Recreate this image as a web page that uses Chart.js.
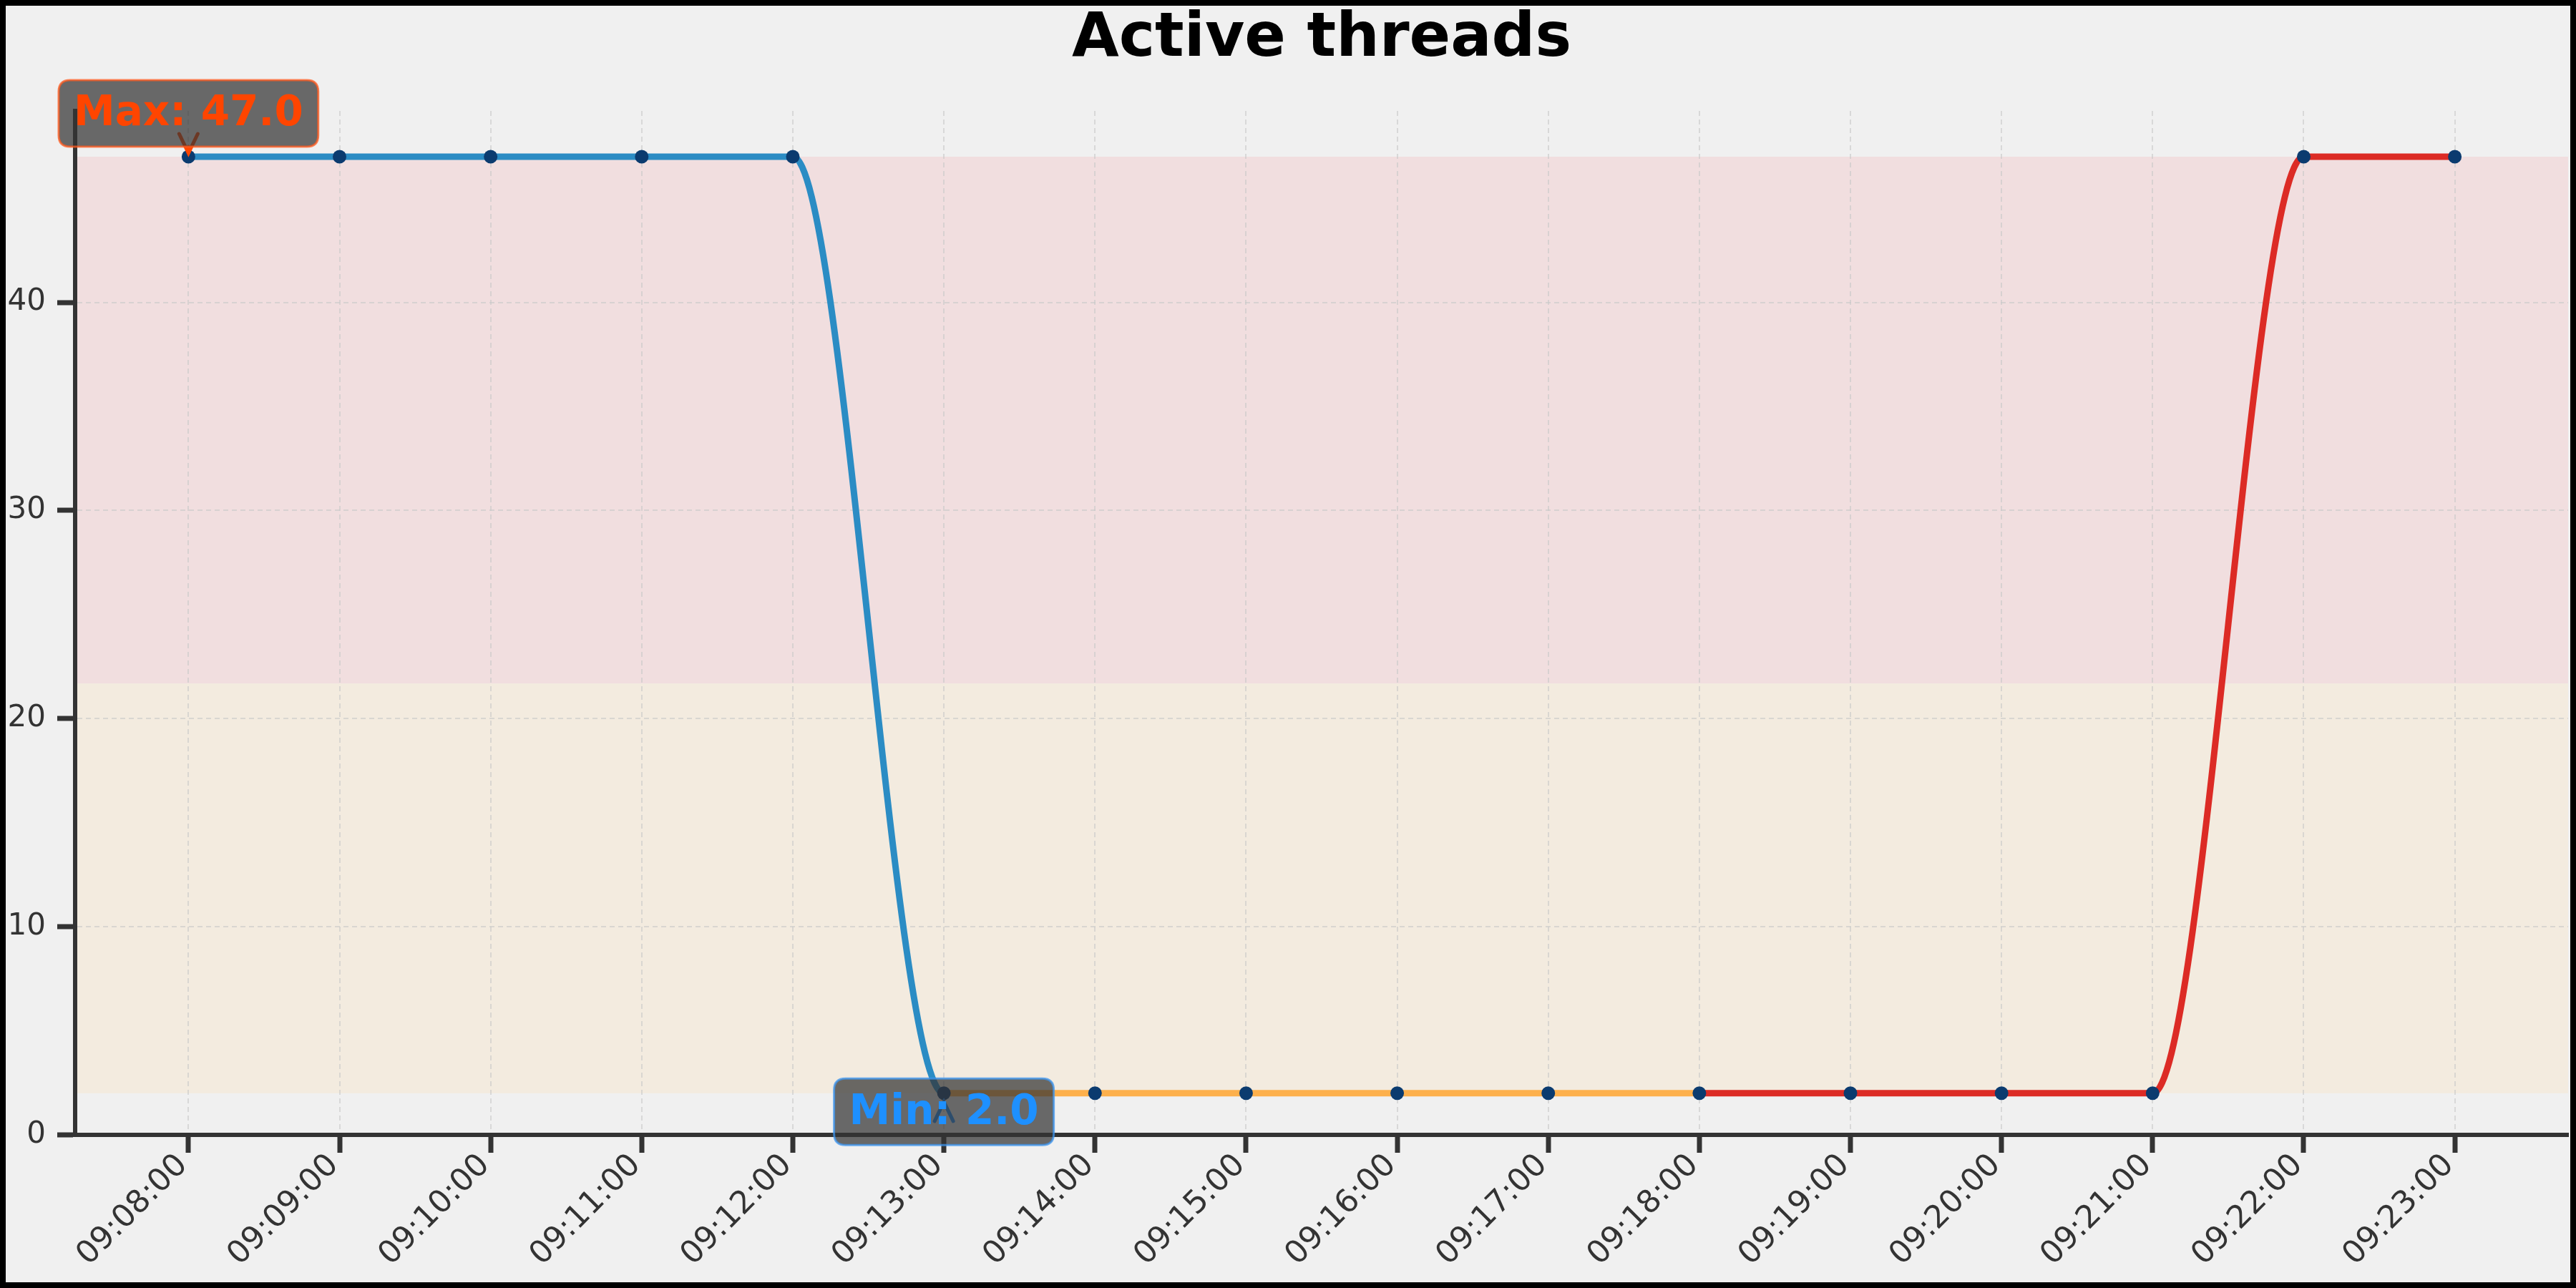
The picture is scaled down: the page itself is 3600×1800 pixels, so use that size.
<!DOCTYPE html>
<html>
<head>
<meta charset="utf-8">
<title>Active threads</title>
<script src="https://cdn.jsdelivr.net/npm/chart.js@4.4.1/dist/chart.umd.min.js"></script>
<style>
    html, body { margin: 0; padding: 0; background: #f0f0f0; }
    canvas { display: block; }
</style>
</head>
<body>
<canvas id="threadsChart" width="3600" height="1800"></canvas>
<script>
// Samples, one per minute
const timeLabels = ['09:08:00', '09:09:00', '09:10:00', '09:11:00', '09:12:00', '09:13:00', '09:14:00', '09:15:00',
    '09:16:00', '09:17:00', '09:18:00', '09:19:00', '09:20:00', '09:21:00', '09:22:00', '09:23:00'];
const activeThreads = [47, 47, 47, 47, 47, 2, 2, 2, 2, 2, 2, 2, 2, 2, 47, 47];
const yTickValues = [0, 10, 20, 30, 40];

// x position = minutes since first sample
const toMinutes = t => {
    const [h, m, s] = t.split(':').map(Number);
    return h * 60 + m + s / 60;
};
const xMinutes = timeLabels.map(t => toMinutes(t) - toMinutes(timeLabels[0]));

const maxValue = Math.max(...activeThreads);
const minValue = Math.min(...activeThreads);
const meanValue = activeThreads.reduce((a, b) => a + b, 0) / activeThreads.length;
const maxIndex = activeThreads.indexOf(maxValue);
const minIndex = activeThreads.indexOf(minValue);

const FONT = '"DejaVu Sans", "Liberation Sans", sans-serif';

// background, bands above/below the mean, title and frame
const decorPlugin = {
    id: 'decor',
    beforeDraw(chart) {
        const { ctx, chartArea, scales } = chart;
        ctx.save();
        ctx.fillStyle = '#f0f0f0';
        ctx.fillRect(0, 0, chart.width, chart.height);

        const yMax = scales.y.getPixelForValue(maxValue);
        const yMean = scales.y.getPixelForValue(meanValue);
        const yMin = scales.y.getPixelForValue(minValue);
        ctx.fillStyle = '#f1dedf'; // above mean
        ctx.fillRect(chartArea.left, yMax, chartArea.right - chartArea.left, yMean - yMax);
        ctx.fillStyle = '#f3ebdf'; // below mean
        ctx.fillRect(chartArea.left, yMean, chartArea.right - chartArea.left, yMin - yMean);

        ctx.fillStyle = '#000';
        ctx.font = 'bold 85px ' + FONT;
        ctx.textAlign = 'center';
        ctx.textBaseline = 'alphabetic';
        ctx.fillText('Active threads', (chartArea.left + chartArea.right) / 2, 78);
        ctx.restore();
    },
    afterDraw(chart) {
        const ctx = chart.ctx;
        ctx.save();
        ctx.strokeStyle = '#000';
        ctx.lineWidth = 8;
        ctx.strokeRect(4, 4, chart.width - 8, chart.height - 8);
        ctx.restore();
    }
};

function roundRect(ctx, x, y, w, h, r) {
    ctx.beginPath();
    ctx.moveTo(x + r, y);
    ctx.lineTo(x + w - r, y);
    ctx.quadraticCurveTo(x + w, y, x + w, y + r);
    ctx.lineTo(x + w, y + h - r);
    ctx.quadraticCurveTo(x + w, y + h, x + w - r, y + h);
    ctx.lineTo(x + r, y + h);
    ctx.quadraticCurveTo(x, y + h, x, y + h - r);
    ctx.lineTo(x, y + r);
    ctx.quadraticCurveTo(x, y, x + r, y);
    ctx.closePath();
}

// Max / Min callouts with arrow heads
function drawCallout(ctx, px, py, text, color, edge, boxDy, tipDy) {
    const cx = px;
    const cy = py + boxDy;
    ctx.save();
    ctx.font = 'bold 58px ' + FONT;
    const tw = ctx.measureText(text).width;
    const bw = tw + 42;
    const bh = 93;

    // arrow head (under the box)
    const tipY = py + tipDy;
    const dir = boxDy < 0 ? -1 : 1;
    ctx.strokeStyle = color;
    ctx.lineWidth = 5;
    ctx.lineCap = 'round';
    ctx.beginPath();
    if (dir < 0) {
        ctx.moveTo(px, cy + bh / 2);
        ctx.lineTo(px, tipY);
    }
    ctx.moveTo(px - 13, tipY + dir * 27);
    ctx.lineTo(px, tipY);
    ctx.lineTo(px + 13, tipY + dir * 27);
    ctx.stroke();

    roundRect(ctx, cx - bw / 2, cy - bh / 2, bw, bh, 16);
    ctx.fillStyle = 'rgba(51, 51, 51, 0.72)';
    ctx.fill();
    ctx.strokeStyle = edge;
    ctx.lineWidth = 3;
    ctx.stroke();

    ctx.fillStyle = color;
    ctx.textAlign = 'center';
    ctx.textBaseline = 'alphabetic';
    ctx.fillText(text, cx, cy + 17);
    ctx.restore();
}

const calloutPlugin = {
    id: 'callouts',
    afterDatasetsDraw(chart) {
        const { ctx, scales } = chart;
        const mx = scales.x.getPixelForValue(xMinutes[maxIndex]);
        const my = scales.y.getPixelForValue(maxValue);
        drawCallout(ctx, mx, my, 'Max: ' + maxValue.toFixed(1), '#ff4500', 'rgba(255, 90, 30, 0.75)', -60.5, -5);
        const nx = scales.x.getPixelForValue(xMinutes[minIndex]);
        const ny = scales.y.getPixelForValue(minValue);
        drawCallout(ctx, nx, ny, 'Min: ' + minValue.toFixed(1), '#1e90ff', 'rgba(60, 150, 240, 0.75)', 26, 12);
    }
};

const lineBlue = '#2b8cc4';
const lineOrange = '#fdb04c';
const lineRed = '#dc2b25';

new Chart(document.getElementById('threadsChart'), {
    type: 'line',
    data: {
        datasets: [{
            label: 'Active threads',
            data: activeThreads.map((v, i) => ({ x: xMinutes[i], y: v })),
            borderWidth: 9,
            cubicInterpolationMode: 'monotone',
            borderColor: lineBlue,
            segment: {
                borderColor: c => c.p0DataIndex < 5 ? lineBlue : (c.p0DataIndex < 10 ? lineOrange : lineRed)
            },
            pointRadius: 9.5,
            pointBackgroundColor: '#0b3b6f',
            pointBorderWidth: 0,
            fill: false,
            clip: false
        }]
    },
    options: {
        responsive: false,
        animation: false,
        layout: { padding: { top: 155, right: 11, left: 0, bottom: 0 } },
        plugins: {
            legend: { display: false },
            tooltip: { enabled: false }
        },
        scales: {
            x: {
                type: 'linear',
                min: -0.75,
                max: 15.75,
                afterBuildTicks: s => { s.ticks = xMinutes.map(v => ({ value: v })); },
                afterFit: s => { s.height = 214; },
                ticks: {
                    callback: (v, i) => timeLabels[i],
                    minRotation: 45,
                    maxRotation: 45,
                    autoSkip: false,
                    padding: -8,
                    labelOffset: -8,
                    color: '#333',
                    font: { family: FONT, size: 44 }
                },
                grid: {
                    color: 'rgba(200, 200, 200, 0.6)',
                    lineWidth: 2,
                    tickLength: 25,
                    tickWidth: 7,
                    tickColor: '#333'
                },
                border: { display: true, color: '#333', width: 6, dash: [7, 5] }
            },
            y: {
                min: 0,
                max: 49.2,
                afterBuildTicks: s => { s.ticks = yTickValues.map(v => ({ value: v })); },
                afterFit: s => { s.width = 105; },
                ticks: {
                    padding: 16,
                    color: '#333',
                    font: { family: FONT, size: 42 }
                },
                grid: {
                    color: 'rgba(200, 200, 200, 0.6)',
                    lineWidth: 2,
                    tickLength: 25,
                    tickWidth: 7,
                    tickColor: '#333'
                },
                border: { display: true, color: '#333', width: 6, dash: [7, 5] }
            }
        }
    },
    plugins: [decorPlugin, calloutPlugin]
});
</script>
</body>
</html>
